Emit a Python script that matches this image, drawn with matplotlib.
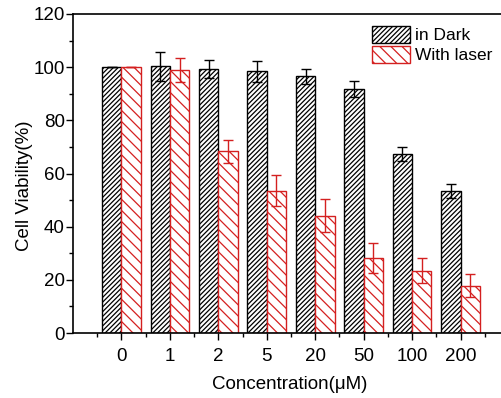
"""Cell viability bar chart: in dark vs with laser"""

import matplotlib
matplotlib.use("Agg")
import matplotlib.pyplot as plt
import numpy as np

# data
concentrations = ["0", "1", "2", "5", "20", "50", "100", "200"]
dark_mean = [100, 100.3, 99.4, 98.4, 96.6, 91.7, 67.4, 53.5]
dark_err = [0, 5.5, 3.3, 4.0, 2.8, 3.0, 2.7, 2.7]
laser_mean = [100, 98.9, 68.3, 53.6, 44.2, 28.3, 23.5, 17.8]
laser_err = [0, 4.4, 4.3, 5.7, 6.3, 5.7, 4.7, 4.4]

plt.rcParams["font.family"] = ["Liberation Sans", "DejaVu Sans"]
plt.rcParams["hatch.linewidth"] = 0.9

fig = plt.figure(figsize=(5.02, 3.98), dpi=100)
ax = fig.add_axes([73 / 502, 1 - 333 / 398, (509 - 73) / 502, (333 - 14) / 398])

x = np.arange(len(concentrations))
w = 0.4
red = "#d42020"
ax.bar(x - w / 2, dark_mean, w, facecolor="white", edgecolor="black",
       hatch="///////", linewidth=1.0, label="in Dark", zorder=2)
ax.bar(x + w / 2, laser_mean, w, facecolor="white", edgecolor=red,
       hatch="\\\\\\", linewidth=1.0, label="With laser", zorder=2)
ax.errorbar(x - w / 2, dark_mean, yerr=dark_err, fmt="none", ecolor="black",
            elinewidth=1.0, capsize=3.5, capthick=1.0, zorder=3)
ax.errorbar(x + w / 2, laser_mean, yerr=laser_err, fmt="none", ecolor=red,
            elinewidth=1.0, capsize=3.5, capthick=1.0, zorder=3)

ax.set_xlim(-1, 8)
ax.set_ylim(0, 120)
ax.set_xticks(x)
ax.set_xticklabels(concentrations)
ax.set_xticks(np.arange(-0.5, 8, 1), minor=True)
ax.set_yticks(np.arange(0, 121, 20))
ax.set_yticks(np.arange(10, 120, 20), minor=True)
ax.tick_params(which="major", direction="out", length=5, width=1.0,
               labelsize=13.5)
ax.tick_params(which="minor", direction="out", length=3, width=1.0)
ax.tick_params(axis="y", which="major", pad=1)
ax.tick_params(axis="x", which="major", pad=6)
for s in ax.spines.values():
    s.set_linewidth(1.2)
ax.spines["right"].set_visible(False)

ax.set_xlabel("Concentration(μM)", fontsize=13.5)
ax.set_ylabel("Cell Viability(%)", fontsize=13.5)
ax.xaxis.set_label_coords((290 - 73) / 436, -(376 - 333) / 319)
ax.yaxis.set_label_coords((33 - 73) / 436, (333 - 186) / 319)

ax.legend(loc="upper left", bbox_to_anchor=((372 - 73) / 436, 1 - 12 / 319),
          frameon=False, fontsize=12.5, handlelength=2.2, handleheight=1.1,
          labelspacing=0.15, handletextpad=0.3, borderaxespad=0, borderpad=0)

fig.savefig("out.png", dpi=100)
plt.close(fig)
